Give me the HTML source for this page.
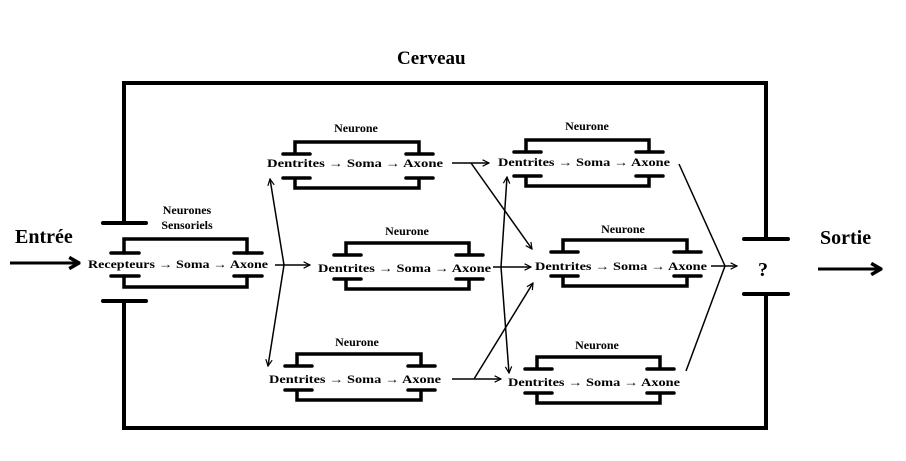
<!DOCTYPE html>
<html><head><meta charset="utf-8"><style>
html,body{margin:0;padding:0;background:#fff;}
svg{display:block;font-family:"Liberation Serif",serif;font-weight:bold;}
</style></head><body>
<svg width="906" height="461" viewBox="0 0 906 461" xmlns="http://www.w3.org/2000/svg">
<defs>
<marker id="a" viewBox="0 0 10 10" refX="9" refY="5" markerWidth="8" markerHeight="8" markerUnits="userSpaceOnUse" orient="auto-start-reverse">
<path d="M1,1 L9,5 L1,9" fill="none" stroke="#000" stroke-width="1.5"/></marker>
<marker id="b" viewBox="0 0 10 10" refX="9" refY="5" markerWidth="14" markerHeight="14" markerUnits="userSpaceOnUse" orient="auto">
<path d="M2,1 L9,5 L2,9" fill="none" stroke="#000" stroke-width="2.5"/></marker>
</defs>
<rect width="906" height="461" fill="#fff"/>
<g stroke="#000" stroke-width="4" fill="none" stroke-linecap="round">
<polyline points="124,223 124,83 766,83 766,239"/>
<polyline points="124,301 124,428 766,428 766,294"/>
<line x1="103" y1="223" x2="146" y2="223"/>
<line x1="103" y1="301" x2="146" y2="301"/>
<line x1="744" y1="239" x2="788" y2="239"/>
<line x1="744" y1="294" x2="788" y2="294"/>
</g>
<g stroke="#000" stroke-width="3.5" fill="none" stroke-linecap="round">
<polyline points="124,253 124,239 247,239 247,253"/>
<polyline points="124,276 124,287 247,287 247,276"/>
<line x1="111" y1="253" x2="139" y2="253"/><line x1="234" y1="253" x2="262" y2="253"/>
<line x1="111" y1="276" x2="139" y2="276"/><line x1="234" y1="276" x2="262" y2="276"/>
</g>
<g stroke="#000" stroke-width="3.5" fill="none" stroke-linecap="round">
<path d="M295,154V142H419V154 M295,178V188H419V178 M283,154H310 M406,154H433 M283,178H310 M406,178H433"/>
<path d="M346,255V243H469V255 M346,279V289H469V279 M334,255H361 M456,255H483 M334,279H361 M456,279H483"/>
<path d="M297,366V354H421V366 M297,390V400H421V390 M285,366H312 M408,366H435 M285,390H312 M408,390H435"/>
<path d="M526,152V140H649V152 M526,176V186H649V176 M514,152H541 M636,152H663 M514,176H541 M636,176H663"/>
<path d="M563,252V240H687V252 M563,276V286H687V276 M551,252H578 M674,252H701 M551,276H578 M674,276H701"/>
<path d="M537,369V357H660V369 M537,393V403H660V393 M525,369H552 M647,369H674 M525,393H552 M647,393H674"/>
</g>
<g stroke="#000" stroke-width="1.5" fill="none">
<line x1="275" y1="265" x2="310" y2="265" marker-end="url(#a)"/>
<polyline points="270,179 284,265 268,366" marker-start="url(#a)" marker-end="url(#a)"/>
<line x1="452" y1="163" x2="489" y2="163" marker-end="url(#a)"/>
<line x1="471" y1="163" x2="532" y2="249" marker-end="url(#a)"/>
<line x1="493" y1="267" x2="531" y2="267" marker-end="url(#a)"/>
<polyline points="507,177 501,267 509,373" marker-start="url(#a)" marker-end="url(#a)"/>
<line x1="452" y1="379" x2="501" y2="379" marker-end="url(#a)"/>
<line x1="474" y1="379" x2="533" y2="283" marker-end="url(#a)"/>
<line x1="679" y1="164" x2="725" y2="266"/>
<line x1="686" y1="371" x2="725" y2="266"/>
<line x1="711" y1="266" x2="737" y2="266" marker-end="url(#a)"/>
</g>
<g stroke="#000" stroke-width="3" fill="none">
<line x1="10" y1="263" x2="79" y2="263" marker-end="url(#b)"/>
<line x1="818" y1="269" x2="881" y2="269" marker-end="url(#b)"/>
</g>
<g fill="#000" font-size="12">
<text x="88" y="268" textLength="180" lengthAdjust="spacingAndGlyphs">Recepteurs → Soma → Axone</text>
<text x="267" y="167" textLength="176" lengthAdjust="spacingAndGlyphs">Dentrites → Soma → Axone</text>
<text x="318" y="272" textLength="173" lengthAdjust="spacingAndGlyphs">Dentrites → Soma → Axone</text>
<text x="269" y="383" textLength="172" lengthAdjust="spacingAndGlyphs">Dentrites → Soma → Axone</text>
<text x="498" y="166" textLength="172" lengthAdjust="spacingAndGlyphs">Dentrites → Soma → Axone</text>
<text x="535" y="270" textLength="172" lengthAdjust="spacingAndGlyphs">Dentrites → Soma → Axone</text>
<text x="508" y="386" textLength="172" lengthAdjust="spacingAndGlyphs">Dentrites → Soma → Axone</text>
<g text-anchor="middle">
<text x="356" y="132">Neurone</text>
<text x="407" y="235">Neurone</text>
<text x="357" y="346">Neurone</text>
<text x="587" y="130">Neurone</text>
<text x="623" y="233">Neurone</text>
<text x="597" y="349">Neurone</text>
<text x="187" y="214">Neurones</text>
<text x="187" y="229">Sensoriels</text>
</g>
<text x="397" y="64" font-size="19">Cerveau</text>
<text x="15" y="243" font-size="20">Entrée</text>
<text x="820" y="244" font-size="20">Sortie</text>
<text x="758" y="276" font-size="20">?</text>
</g>
</svg>
</body></html>
